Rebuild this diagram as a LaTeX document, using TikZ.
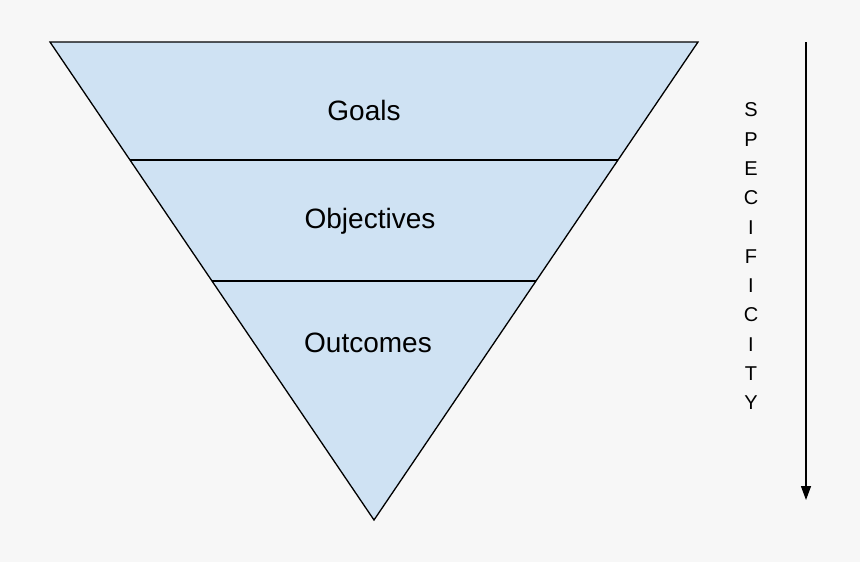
\documentclass[tikz,border=0pt]{standalone}
\usepackage{fontspec}
\setmainfont{Liberation Sans}
\usetikzlibrary{arrows.meta}
\definecolor{bg}{HTML}{F7F7F7}
\definecolor{tri}{HTML}{CFE2F3}
\tikzset{lbl/.style={font=\fontsize{28}{30}\selectfont},
letter/.style={font=\fontsize{20}{22}\selectfont}}
\begin{document}
\begin{tikzpicture}[x=1pt,y=-1pt]
\fill[bg] (0,0) rectangle (860,562);
\useasboundingbox (0,0) rectangle (860,562);
\coordinate (tl) at (50,42);
\coordinate (tr) at (698,42);
\coordinate (b) at (374,520);
\coordinate (l1) at (130,160);
\coordinate (r1) at (618,160);
\coordinate (l2) at (212,281);
\coordinate (r2) at (536,281);
\draw[fill=tri,line width=1.3pt,line join=miter] (tl) -- (tr) -- (b) -- cycle;
\draw[line width=1.3pt] (l1) -- (r1);
\draw[line width=1.3pt] (l2) -- (r2);
\node[lbl] (g) at (364,110) {Goals};
\node[lbl] (o) at (370,221) {Objectives};
\node[lbl] (u) at (368,343) {Outcomes};
\coordinate (a1) at (806,42);
\coordinate (a2) at (806,500);
\draw[line width=1.3pt,-{Triangle[length=14pt,width=10pt]}] (a1) -- (a2);
\foreach \c [count=\i from 0] in {S,P,E,C,I,F,I,C,I,T,Y}
  \node[letter] (s\i) at (751,110+29.3*\i) {\c};
\end{tikzpicture}
\end{document}
